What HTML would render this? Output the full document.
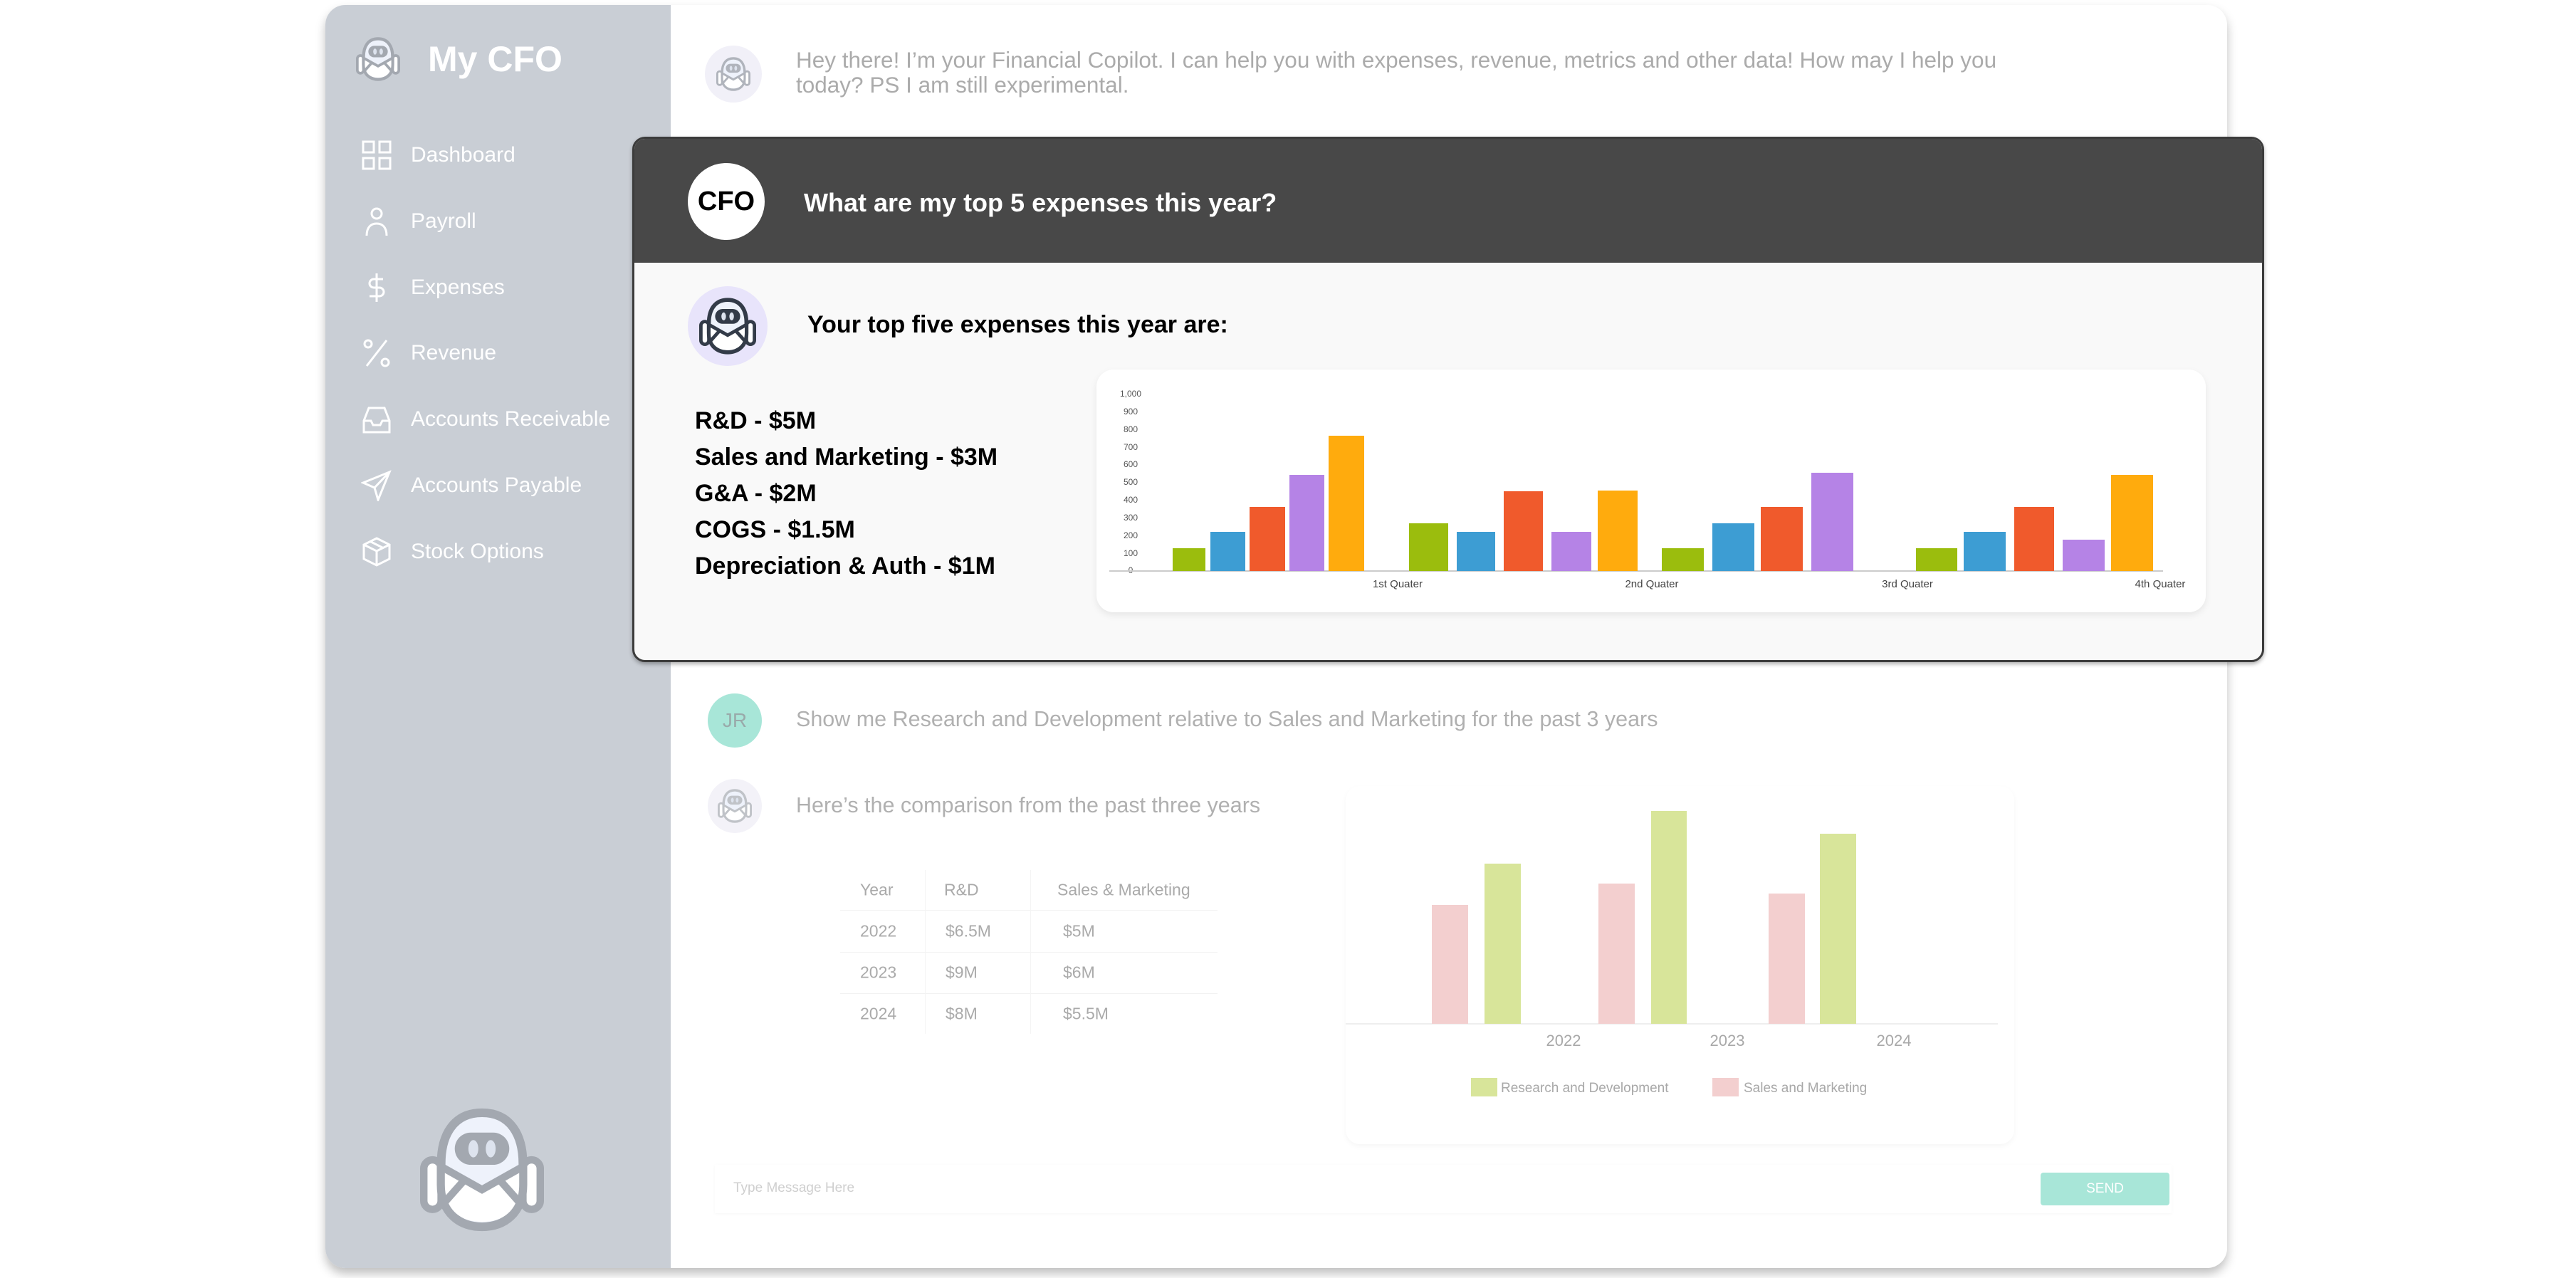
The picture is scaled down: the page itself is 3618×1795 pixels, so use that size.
<!DOCTYPE html>
<html><head><meta charset="utf-8">
<style>
body{margin:0;width:3618px;height:1795px;background:#fff;position:relative;overflow:hidden;font-family:"Liberation Sans",sans-serif}
.a{position:absolute;white-space:nowrap}
.nav{position:absolute;left:577px;color:#fff;font-size:30px;transform:translateY(-50%)}
.ic{position:absolute;left:507px;width:44px;height:44px;transform:translateY(-50%)}
.t{position:absolute;color:#aaa;font-size:23px;transform:translateY(-50%)}
</style></head><body>
<svg width="0" height="0" style="position:absolute">
<defs>
<symbol id="bot" viewBox="0 0 100 100">
<rect x="3" y="42" width="14" height="40" rx="7" fill="#fff" stroke="currentColor" stroke-width="6"/>
<rect x="83" y="42" width="14" height="40" rx="7" fill="#fff" stroke="currentColor" stroke-width="6"/>
<path d="M50 4 C27 4 17 22 17 45 L17 62 C17 85 32 96 50 96 C68 96 83 85 83 62 L83 45 C83 22 73 4 50 4Z" fill="#eef2fb" stroke="currentColor" stroke-width="7"/>
<path d="M20 50 L50 66 L80 50 L80 62 C80 82 68 92 50 92 C32 92 20 82 20 62Z" fill="#fff"/>
<path d="M18 48 L50 66 L82 48 M20 76 L36 58 M80 76 L64 58" fill="none" stroke="currentColor" stroke-width="6"/>
<rect x="28" y="20" width="44" height="26" rx="13" fill="currentColor"/>
<ellipse cx="43" cy="33" rx="4" ry="7" fill="#dde3ee"/><ellipse cx="57" cy="33" rx="4" ry="7" fill="#dde3ee"/>
</symbol>
</defs></svg>

<!-- main frame -->
<div class="a" style="left:457px;top:7px;width:2671px;height:1774px;border-radius:28px;background:#fff;box-shadow:0 8px 14px rgba(0,0,0,.25);overflow:hidden">
  <div style="position:absolute;left:0;top:0;width:485px;height:100%;background:#c9ced5"></div>
</div>

<!-- sidebar -->
<svg class="a" style="left:497px;top:52px;color:#a3a8b0" width="68" height="62"><use href="#bot" width="68" height="62"/></svg>
<div class="a" style="left:601px;top:54px;color:#fff;font-size:50px;font-weight:bold">My CFO</div>

<svg class="ic" style="top:218px" viewBox="0 0 44 44" fill="none" stroke="#fff" stroke-width="3"><rect x="3" y="3" width="15" height="15"/><rect x="26" y="3" width="15" height="15"/><rect x="3" y="26" width="15" height="15"/><rect x="26" y="26" width="15" height="15"/></svg>
<div class="nav" style="top:218px">Dashboard</div>
<svg class="ic" style="top:311px" viewBox="0 0 44 44" fill="none" stroke="#fff" stroke-width="3"><circle cx="22" cy="11" r="7"/><path d="M8 42 C8 30 14 25 22 25 C30 25 36 30 36 42"/></svg>
<div class="nav" style="top:311px">Payroll</div>
<svg class="ic" style="top:404px" viewBox="0 0 44 44" fill="none" stroke="#fff" stroke-width="3"><path d="M22 2 V42 M31 10 H18 A6 6 0 0 0 18 22 H26 A6 6 0 0 1 26 34 H12"/></svg>
<div class="nav" style="top:404px">Expenses</div>
<svg class="ic" style="top:496px" viewBox="0 0 44 44" fill="none" stroke="#fff" stroke-width="3"><path d="M36 4 L8 40"/><circle cx="10" cy="9" r="5"/><circle cx="34" cy="35" r="5"/></svg>
<div class="nav" style="top:496px">Revenue</div>
<svg class="ic" style="top:589px" viewBox="0 0 44 44" fill="none" stroke="#fff" stroke-width="3"><path d="M4 24 L11 6 H33 L40 24 V40 H4Z M4 24 H14 L17 30 H27 L30 24 H40"/></svg>
<div class="nav" style="top:589px">Accounts Receivable</div>
<svg class="ic" style="top:682px" viewBox="0 0 44 44" fill="none" stroke="#fff" stroke-width="3"><path d="M40 3 L3 18 L19 25 L24 42Z M19 25 L40 3"/></svg>
<div class="nav" style="top:682px">Accounts Payable</div>
<svg class="ic" style="top:775px" viewBox="0 0 44 44" fill="none" stroke="#fff" stroke-width="3"><path d="M22 3 L40 12 V32 L22 41 L4 32 V12Z M4 12 L22 21 L40 12 M22 21 V41 M13 7.5 L31 16.5"/></svg>
<div class="nav" style="top:775px">Stock Options</div>

<svg class="a" style="left:588px;top:1556px;color:#a3a8b0" width="178" height="174"><use href="#bot" width="178" height="174"/></svg>

<!-- top message -->
<div class="a" style="left:990px;top:64px;width:80px;height:80px;border-radius:50%;background:#f1f0f8"></div>
<svg class="a" style="left:1006px;top:80px;color:#b0b4bc" width="48" height="48"><use href="#bot" width="48" height="48"/></svg>
<div class="a" style="left:1118px;top:67px;color:#ababab;font-size:31.5px;line-height:35px">Hey there! I’m your Financial Copilot. I can help you with expenses, revenue, metrics and other data! How may I help you<br>today? PS I am still experimental.</div>

<!-- popup -->
<div class="a" style="left:888px;top:192px;width:2286px;height:732px;border:3px solid #3c3c3c;border-radius:18px;background:#f9f9f9;overflow:hidden;box-shadow:0 3px 6px rgba(0,0,0,.3)">
  <div style="position:absolute;left:0;top:0;width:100%;height:174px;background:#484848"></div>
</div>
<div class="a" style="left:966px;top:229px;width:108px;height:108px;border-radius:50%;background:#fff;color:#000;font-size:38px;font-weight:bold;line-height:108px;text-align:center">CFO</div>
<div class="a" style="left:1129px;top:264px;color:#fff;font-size:36px;font-weight:bold">What are my top 5 expenses this year?</div>
<div class="a" style="left:966px;top:402px;width:112px;height:112px;border-radius:50%;background:#e8e4fb"></div>
<svg class="a" style="left:982px;top:418px;color:#333b48" width="80" height="80"><use href="#bot" width="80" height="80"/></svg>
<div class="a" style="left:1134px;top:437px;color:#000;font-size:34px;font-weight:bold">Your top five expenses this year are:</div>
<div class="a" style="left:976px;top:566px;color:#000;font-size:34px;font-weight:bold;line-height:51px">R&amp;D - $5M<br>Sales and Marketing - $3M<br>G&amp;A - $2M<br>COGS - $1.5M<br>Depreciation &amp; Auth - $1M</div>

<!-- chart 1 -->
<div class="a" style="left:1540px;top:519px;width:1558px;height:341px;background:#fff;border-radius:24px;box-shadow:0 4px 10px rgba(0,0,0,.08)"></div>
<svg class="a" style="left:0;top:0" width="3618" height="1795" font-family="Liberation Sans, sans-serif">
<g fill="#555" font-size="12" text-anchor="middle">
<text x="1588" y="557">1,000</text><text x="1588" y="582">900</text><text x="1588" y="607">800</text><text x="1588" y="632">700</text><text x="1588" y="656">600</text><text x="1588" y="681">500</text><text x="1588" y="706">400</text><text x="1588" y="731">300</text><text x="1588" y="756">200</text><text x="1588" y="781">100</text><text x="1588" y="805">0</text>
</g>
<line x1="1558" y1="802" x2="3038" y2="802" stroke="#ccc" stroke-width="2"/>
<g>
<rect x="1647" y="770" width="46" height="32" fill="#9bbd0d"/>
<rect x="1700" y="747" width="49" height="55" fill="#3d9dd3"/>
<rect x="1755" y="712" width="50" height="90" fill="#f05a2c"/>
<rect x="1811" y="667" width="49" height="135" fill="#b583e6"/>
<rect x="1866" y="612" width="50" height="190" fill="#ffab0d"/>
<rect x="1979" y="735" width="55" height="67" fill="#9bbd0d"/>
<rect x="2046" y="747" width="54" height="55" fill="#3d9dd3"/>
<rect x="2112" y="690" width="55" height="112" fill="#f05a2c"/>
<rect x="2179" y="747" width="56" height="55" fill="#b583e6"/>
<rect x="2244" y="689" width="56" height="113" fill="#ffab0d"/>
<rect x="2334" y="770" width="59" height="32" fill="#9bbd0d"/>
<rect x="2405" y="735" width="59" height="67" fill="#3d9dd3"/>
<rect x="2473" y="712" width="59" height="90" fill="#f05a2c"/>
<rect x="2544" y="664" width="59" height="138" fill="#b583e6"/>
<rect x="2691" y="770" width="58" height="32" fill="#9bbd0d"/>
<rect x="2758" y="747" width="59" height="55" fill="#3d9dd3"/>
<rect x="2829" y="712" width="56" height="90" fill="#f05a2c"/>
<rect x="2897" y="758" width="59" height="44" fill="#b583e6"/>
<rect x="2965" y="667" width="59" height="135" fill="#ffab0d"/>
</g>
<g fill="#444" font-size="15" text-anchor="middle">
<text x="1963" y="825">1st Quater</text><text x="2320" y="825">2nd Quater</text><text x="2679" y="825">3rd Quater</text><text x="3034" y="825">4th Quater</text>
</g>
</svg>

<!-- lower section -->
<div class="a" style="left:994px;top:974px;width:76px;height:76px;border-radius:50%;background:#a8e6d8;color:#9aa;font-size:28px;line-height:76px;text-align:center">JR</div>
<div class="a" style="left:1118px;top:993px;color:#b0b0b0;font-size:30.5px">Show me Research and Development relative to Sales and Marketing for the past 3 years</div>
<div class="a" style="left:994px;top:1094px;width:76px;height:76px;border-radius:50%;background:#f3f2f8"></div>
<svg class="a" style="left:1008px;top:1108px;color:#c0c3c8" width="48" height="48"><use href="#bot" width="48" height="48"/></svg>
<div class="a" style="left:1118px;top:1114px;color:#b0b0b0;font-size:30.5px">Here’s the comparison from the past three years</div>

<div class="a" style="left:1180px;top:1278px;width:530px;height:1px;background:#f2f2f2"></div>
<div class="a" style="left:1180px;top:1337px;width:530px;height:1px;background:#f2f2f2"></div>
<div class="a" style="left:1180px;top:1395px;width:530px;height:1px;background:#f2f2f2"></div>
<div class="a" style="left:1299px;top:1222px;width:1px;height:230px;background:#f4f4f4"></div>
<div class="a" style="left:1447px;top:1222px;width:1px;height:230px;background:#f4f4f4"></div>
<div class="t" style="left:1208px;top:1250px">Year</div><div class="t" style="left:1326px;top:1250px">R&amp;D</div><div class="t" style="left:1485px;top:1250px">Sales &amp; Marketing</div>
<div class="t" style="left:1208px;top:1308px">2022</div><div class="t" style="left:1328px;top:1308px">$6.5M</div><div class="t" style="left:1493px;top:1308px">$5M</div>
<div class="t" style="left:1208px;top:1366px">2023</div><div class="t" style="left:1328px;top:1366px">$9M</div><div class="t" style="left:1493px;top:1366px">$6M</div>
<div class="t" style="left:1208px;top:1424px">2024</div><div class="t" style="left:1328px;top:1424px">$8M</div><div class="t" style="left:1493px;top:1424px">$5.5M</div>

<div class="a" style="left:1890px;top:1104px;width:939px;height:503px;background:#fff;border-radius:20px;box-shadow:0 3px 8px rgba(0,0,0,.04)"></div>
<svg class="a" style="left:0;top:0" width="3618" height="1795" font-family="Liberation Sans, sans-serif">
<line x1="1890" y1="1438" x2="2806" y2="1438" stroke="#eee" stroke-width="2"/>
<rect x="2011" y="1271" width="51" height="167" fill="#f3cfcf"/>
<rect x="2085" y="1213" width="51" height="225" fill="#d8e59a"/>
<rect x="2245" y="1241" width="51" height="197" fill="#f3cfcf"/>
<rect x="2319" y="1139" width="50" height="299" fill="#d8e59a"/>
<rect x="2484" y="1255" width="51" height="183" fill="#f3cfcf"/>
<rect x="2556" y="1171" width="51" height="267" fill="#d8e59a"/>
<g fill="#a8a8a8" font-size="22" text-anchor="middle"><text x="2196" y="1469">2022</text><text x="2426" y="1469">2023</text><text x="2660" y="1469">2024</text></g>
<rect x="2066" y="1514" width="37" height="26" fill="#d8e59a"/><text x="2108" y="1534" fill="#a8a8a8" font-size="19">Research and Development</text>
<rect x="2405" y="1514" width="37" height="26" fill="#f3cfcf"/><text x="2449" y="1534" fill="#a8a8a8" font-size="19">Sales and Marketing</text>
</svg>

<div class="a" style="left:1004px;top:1636px;width:2046px;height:68px;background:#fff;box-shadow:0 1px 4px rgba(0,0,0,.04)"></div>
<div class="a" style="left:1030px;top:1658px;color:#cfcfcf;font-size:19px">Type Message Here</div>
<div class="a" style="left:2866px;top:1647px;width:181px;height:46px;border-radius:4px;background:#a8e6d8;color:#fff;font-size:19px;line-height:46px;text-align:center">SEND</div>
</body></html>
